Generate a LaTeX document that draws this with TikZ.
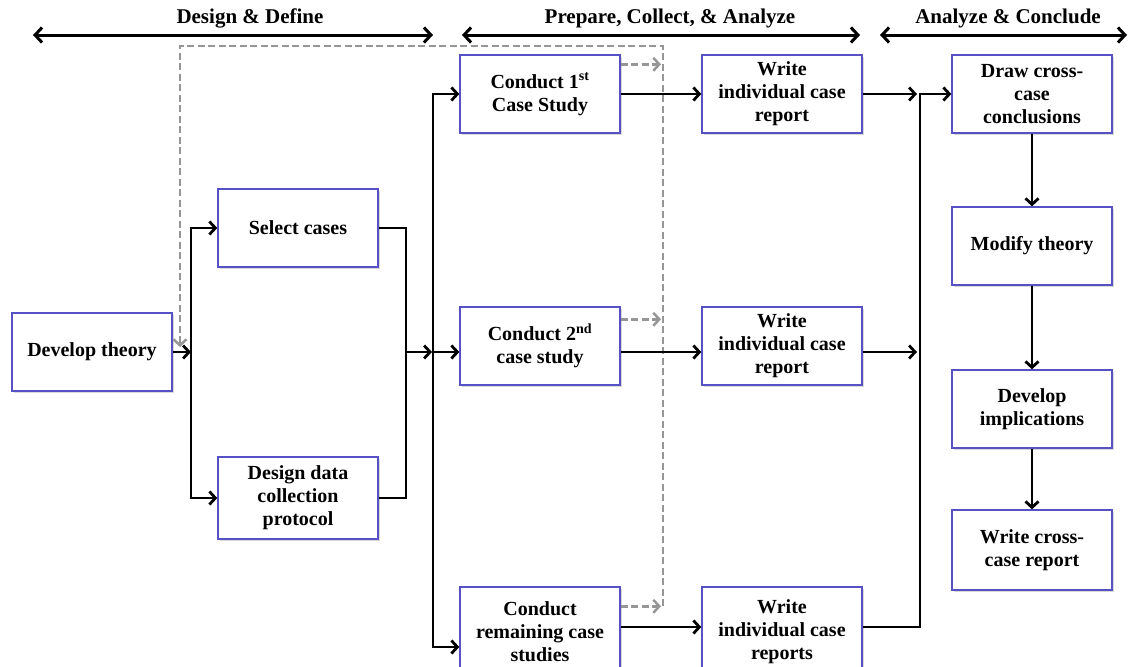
\documentclass[tikz,border=0pt]{standalone}
\usepackage{fontspec}
\setmainfont{Liberation Serif}
\usepackage{tikz}
\usetikzlibrary{arrows.meta,shadows}
\definecolor{boxblue}{RGB}{86, 82, 196}
\definecolor{loopgray}{RGB}{150, 150, 150}

\begin{document}
\begin{tikzpicture}[x=1pt, y=-1pt,
    stage/.style={draw=boxblue, line width=1.4pt, fill=white, minimum width=160pt, minimum height=78pt,
        inner sep=1pt, align=center, font=\fontsize{20}{23}\selectfont\bfseries,
        drop shadow={shadow xshift=1.5pt, shadow yshift=-1.5pt, opacity=0.3}},
    flow/.style={line width=2.8pt, -{Straight Barb[length=6pt, width=13pt]}},
    link/.style={line width=2.8pt},
    loop/.style={line width=2.5pt, loopgray, dash pattern=on 7pt off 3.5pt, -{Straight Barb[length=6pt, width=13pt]}},
    phase/.style={line width=3pt, {Straight Barb[length=7pt, width=15pt]}-{Straight Barb[length=7pt, width=15pt]}},
    phaselabel/.style={font=\fontsize{21}{25}\selectfont\bfseries}]

    \useasboundingbox (0,0) rectangle (1128,667);

    % Phases
    \draw[phase] (33,35) -- (433,35);
    \draw[phase] (462,35) -- (860,35);
    \draw[phase] (880,35) -- (1127,35);
    \node[phaselabel] (PhaseDesign) at (250,18) {Design \& Define};
    \node[phaselabel] (PhasePrepare) at (670,18) {Prepare, Collect, \& Analyze};
    \node[phaselabel] (PhaseConclude) at (1008,18) {Analyze \& Conclude};

    % Design & define boxes
    \node[stage] (DevTheory) at (92,352) {Develop theory};
    \node[stage] (SelCases) at (298,228) {Select cases};
    \node[stage, minimum height=82pt] (DesignProt) at (298,498) {Design data\\collection\\protocol};

    % Case studies
    \node[stage] (Conduct1) at (540,94) {Conduct 1\textsuperscript{st}\\Case Study};
    \node[stage] (Conduct2) at (540,346) {Conduct 2\textsuperscript{nd}\\case study};
    \node[stage, minimum height=90pt] (ConductR) at (540,632) {Conduct\\remaining case\\studies};

    \node[stage] (Write1) at (782,94) {Write\\individual case\\report};
    \node[stage] (Write2) at (782,346) {Write\\individual case\\report};
    \node[stage, minimum height=90pt] (WriteR) at (782,632) {Write\\individual case\\reports};

    % Conclusions
    \node[stage] (DrawConc) at (1032,94) {Draw cross-\\case\\conclusions};
    \node[stage] (ModTheory) at (1032,246) {Modify theory};
    \node[stage] (DevImpl) at (1032,409) {Develop\\implications};
    \node[stage, minimum height=80pt] (WriteCross) at (1032,550) {Write cross-\\case report};

    % Feedback loop (dashed)
    \coordinate (LoopTop) at (663,46);
    \coordinate (LoopCorner) at (180,46);
    \coordinate (LoopEnd) at (180,347);
    \coordinate (D1) at ([yshift=-10pt]Conduct1.north east);
    \coordinate (D2) at ([yshift=-13pt]Conduct2.north east);
    \coordinate (DR) at ([yshift=-20pt]ConductR.north east);
    \draw[loop] (D1) -- ([xshift=-2pt]D1 -| LoopTop);
    \draw[loop] (D2) -- ([xshift=-2pt]D2 -| LoopTop);
    \draw[loop] (DR) -- ([xshift=-2pt]DR -| LoopTop);
    \draw[loop] (DR -| LoopTop) -- (LoopTop) -- (LoopCorner) -- (LoopEnd);

    % Split after theory
    \coordinate (SplitL) at (191,352);
    \draw[flow] (DevTheory.east) -- (SplitL);
    \draw[flow] (SplitL) |- (SelCases.west);
    \draw[flow] (SplitL) |- (DesignProt.west);

    % Merge and split to the case studies
    \coordinate (MergeL) at (406,352);
    \coordinate (SplitM) at (433,352);
    \draw[link] (SelCases.east) -| (MergeL);
    \draw[link] (DesignProt.east) -| (MergeL);
    \draw[flow] (MergeL) -- ([xshift=-1pt]SplitM);
    \draw[flow] (SplitM) |- (Conduct1.west);
    \draw[flow] (SplitM) -- (SplitM -| Conduct2.west);
    \draw[flow] (SplitM) |- ([yshift=-15pt]ConductR.west);

    % Case study to report
    \draw[flow] (Conduct1.east) -- (Write1.west);
    \draw[flow] (SplitM -| Conduct2.east) -- (SplitM -| Write2.west);
    \draw[flow] ([yshift=5pt]ConductR.east) -- ([yshift=5pt]WriteR.west);

    % Reports to conclusions
    \coordinate (BusR) at (920,94);
    \draw[flow] ([yshift=5pt]WriteR.east) -| (BusR) -- (DrawConc.west);
    \draw[flow] (Write1.east) -- ([xshift=-3pt]BusR);
    \draw[flow] (SplitM -| Write2.east) -- ([xshift=-3pt]SplitM -| BusR);

    \draw[flow] (DrawConc.south) -- (ModTheory.north);
    \draw[flow] (ModTheory.south) -- (DevImpl.north);
    \draw[flow] (DevImpl.south) -- (WriteCross.north);
\end{tikzpicture}
\end{document}
